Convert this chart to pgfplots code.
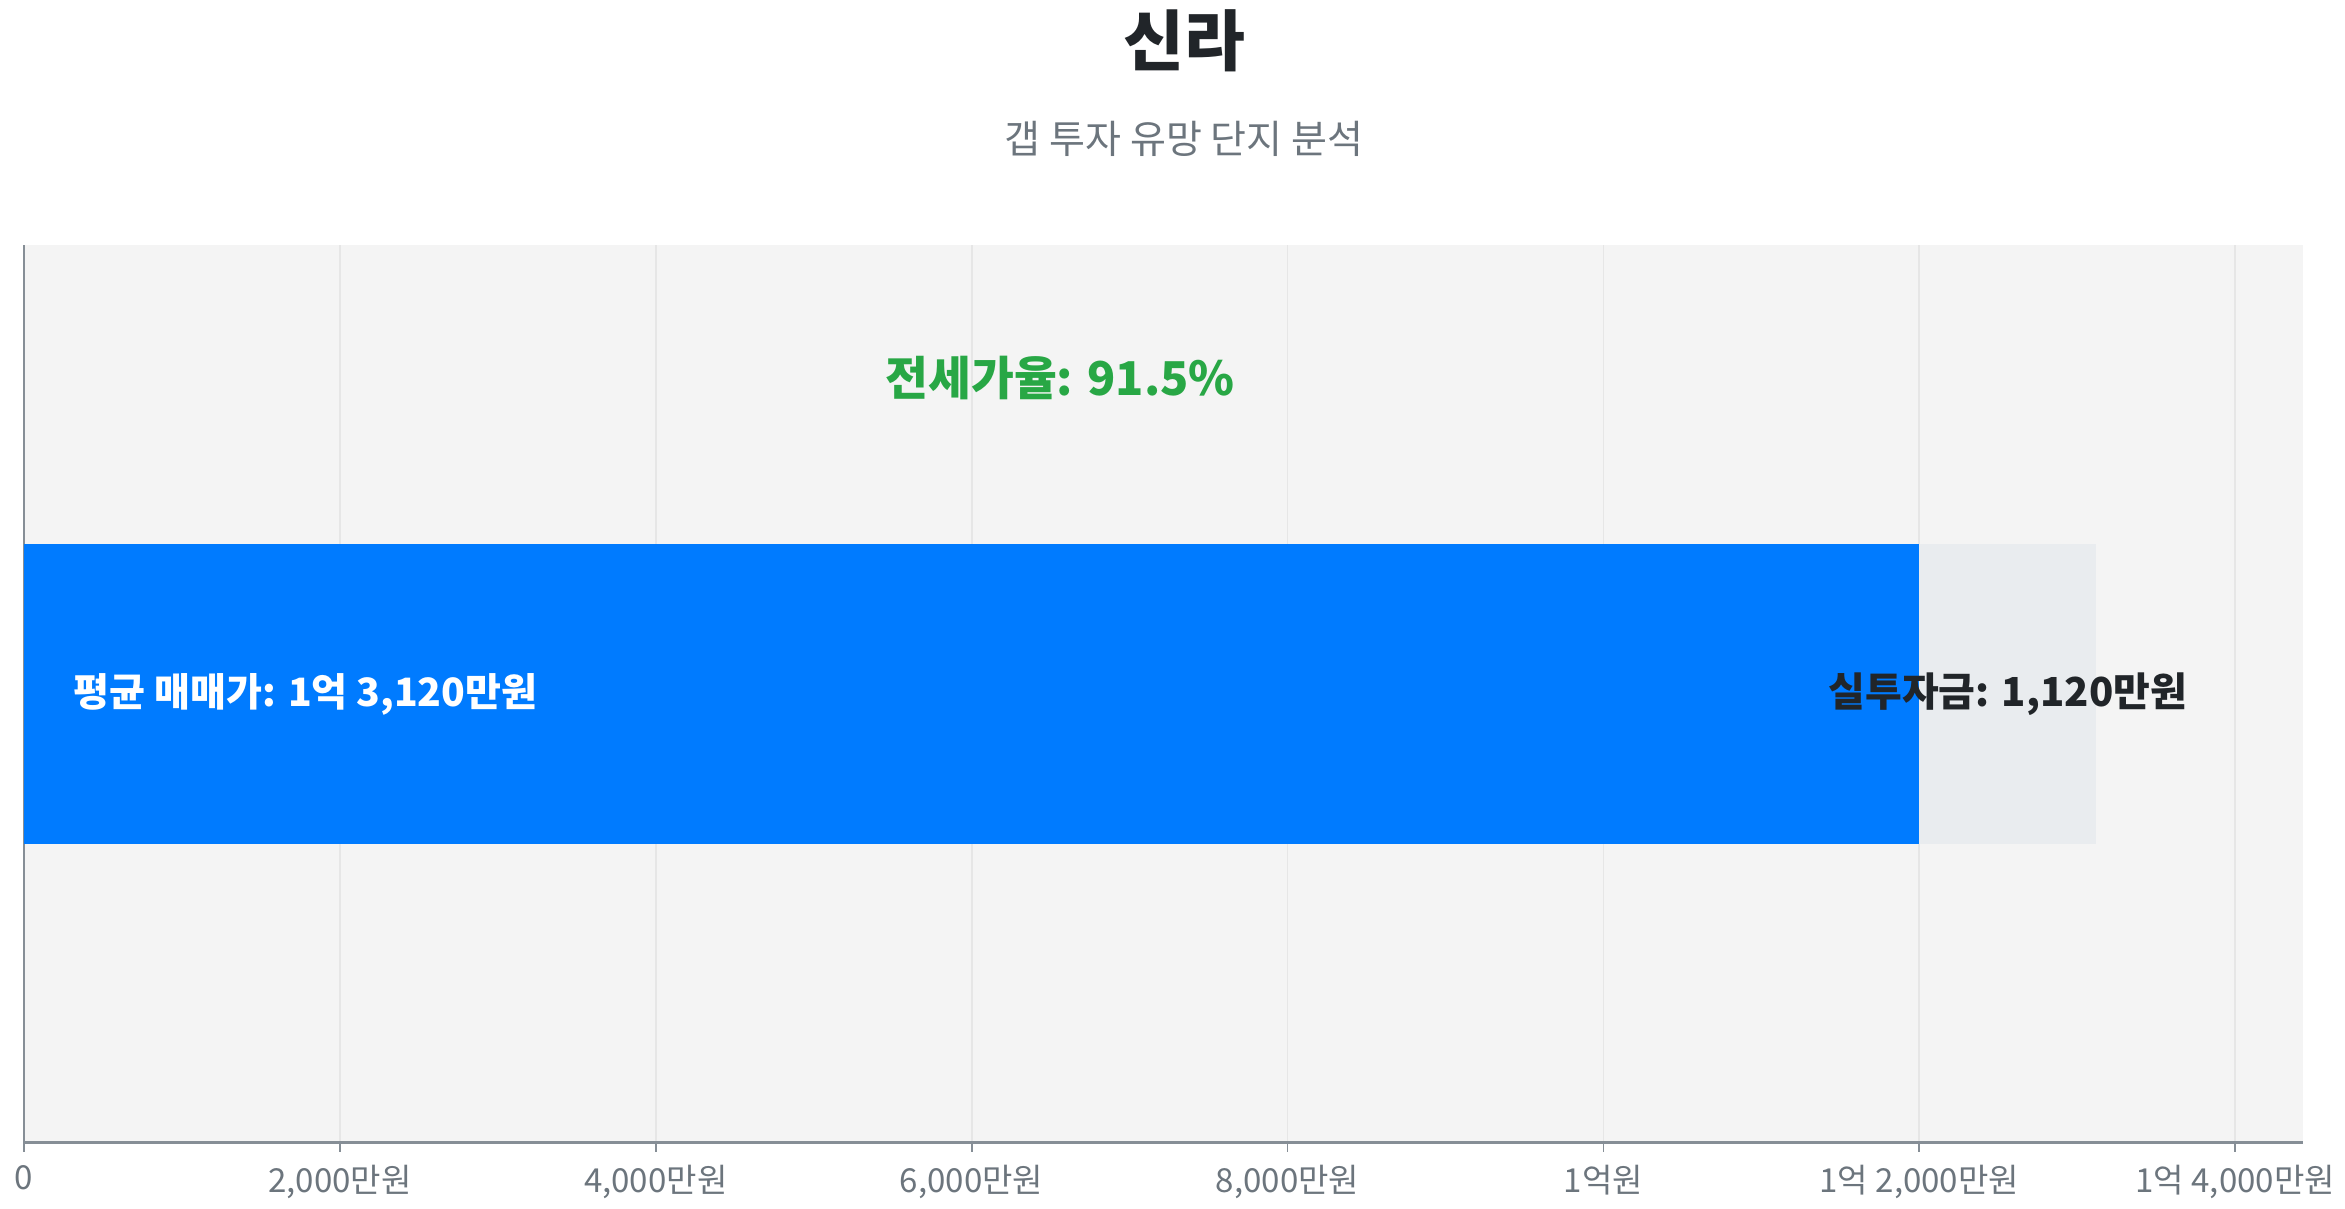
\documentclass[border=0pt]{standalone}
\usepackage{pgfplots}
\pgfplotsset{compat=1.18}
\usepackage{fontspec}
\setmainfont{Noto Sans CJK KR}
\definecolor{barblue}{HTML}{007BFF}
\definecolor{bargrey}{HTML}{E9ECEF}
\definecolor{plotbg}{HTML}{F4F4F4}
\definecolor{gridc}{HTML}{E6E6E6}
\definecolor{axisc}{HTML}{868E96}
\definecolor{ticktext}{HTML}{6C757D}
\definecolor{titlec}{HTML}{212529}
\definecolor{ratio}{HTML}{28A745}
\begin{document}
\begin{tikzpicture}
\begin{axis}[
    scale only axis,
    width=758.5pt, height=298.5pt,
    xmin=0, xmax=14432,
    ymin=-1, ymax=1,
    xbar,
    bar width=99.5pt,
    bar shift=0pt,
    axis background/.style={fill=plotbg},
    axis x line=bottom,
    axis y line=left,
    axis line style={-},
    x axis line style={draw=axisc, line width=1pt},
    y axis line style={draw=axisc, line width=0.6pt},
    ytick=\empty,
    scaled x ticks=false,
    xtick={0,2000,4000,6000,8000,10000,12000,14000},
    xticklabels={0,{2,000만원},{4,000만원},{6,000만원},{8,000만원},1억원,{1억 2,000만원},{1억 4,000만원}},
    tick align=outside,
    major tick length=3pt,
    xtick style={draw=axisc, line width=0.6pt},
    xticklabel style={font=\fontsize{11}{13}\selectfont, text=ticktext, yshift=-1pt},
    xmajorgrids,
    grid style={draw=gridc, line width=0.6pt},
    clip=false,
]
% 평균 매매가 13,120만원 (grey, behind) and 전세가 12,000만원 (blue)
\addplot[fill=bargrey, draw=none, bar shift=0pt] coordinates {(13120,0)};
\addplot[fill=barblue, draw=none, bar shift=0pt] coordinates {(12000,0)};

\coordinate (ratiopos) at (axis cs:6560,0.705);
\coordinate (leftpos) at (axis cs:0,0);
\coordinate (gappos) at (axis cs:12560,0);
\coordinate (titlepos) at (rel axis cs:0,1);
\coordinate (bl) at (rel axis cs:0,0);
\end{axis}
\path ([xshift=-8pt, yshift=-20pt]bl) rectangle ([xshift=772pt, yshift=81.5pt]titlepos);
\node[font=\fontsize{15.5}{18}\bfseries\selectfont, text=ratio] at (ratiopos) {전세가율: 91.5\%};
\node[anchor=west, font=\fontsize{13}{16}\bfseries\selectfont, text=white] at ([xshift=13pt]leftpos) {평균 매매가: 1억 3,120만원};
\node[font=\fontsize{13.3}{16}\bfseries\selectfont, text=titlec] at (gappos) {실투자금: 1,120만원};
\node[font=\fontsize{22}{25}\bfseries\selectfont, text=titlec] at ([xshift=386pt, yshift=68pt]titlepos) {신라};
\node[font=\fontsize{13}{15}\selectfont, text=ticktext] at ([xshift=386pt, yshift=35.5pt]titlepos) {갭 투자 유망 단지 분석};
\end{tikzpicture}
\end{document}
